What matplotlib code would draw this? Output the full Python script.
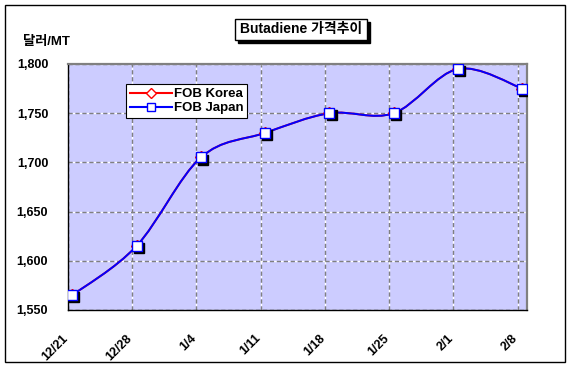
import matplotlib.pyplot as plt
import numpy as np
from matplotlib.path import Path
from matplotlib.patches import PathPatch, Rectangle
from matplotlib.lines import Line2D
import matplotlib.transforms as mtransforms

plt.rcParams['font.family'] = ['Liberation Sans', 'Noto Sans CJK KR', 'DejaVu Sans']
plt.rcParams['font.weight'] = 'bold'

# data
weeks = ['12/21', '12/28', '1/4', '1/11', '1/18', '1/25', '2/1', '2/8']
fob_korea = [1565, 1615, 1705, 1730, 1750, 1750, 1795, 1775]
fob_japan = [1565, 1615, 1705, 1730, 1750, 1750, 1795, 1775]

W, H = 572, 367
fig = plt.figure(figsize=(W / 100, H / 100), dpi=100)
ax = fig.add_axes([67.6 / W, 1 - 310 / H, (527 - 67.6) / W, (310 - 64) / H])
ax.set_facecolor('#CCCCFF')

# date axis: one slot per day, points sit mid-day
tick_pos = np.arange(len(weeks)) * 7
xs = tick_pos + 0.5
ax.set_xlim(0, 50)
ax.set_ylim(1550, 1800)


def smooth_path(x, y):
    # Excel style smoothed line (Catmull-Rom as cubic Bezier)
    p = np.column_stack([x, y]).astype(float)
    ext = np.vstack([p[0], p, p[-1]])
    verts = [p[0]]
    codes = [Path.MOVETO]
    for i in range(len(p) - 1):
        c1 = ext[i + 1] + (ext[i + 2] - ext[i]) / 6
        c2 = ext[i + 2] - (ext[i + 3] - ext[i + 1]) / 6
        verts += [c1, c2, p[i + 1]]
        codes += [Path.CURVE4] * 3
    return Path(verts, codes)


ax.add_patch(PathPatch(smooth_path(xs, fob_korea), fill=False, ec='red', lw=1.4, zorder=3))
ax.add_patch(PathPatch(smooth_path(xs, fob_japan), fill=False, ec='#0000FF', lw=1.4, zorder=4))

ax.plot(xs, fob_korea, ls='none', marker='D', ms=6, mfc='white', mec='red', mew=1, zorder=5)
shadow = mtransforms.offset_copy(ax.transData, fig=fig, x=1.5, y=-1.5, units='points')
ax.plot(xs, fob_japan, ls='none', marker='s', ms=6.5, mfc='black', mec='black', transform=shadow, zorder=6)
ax.plot(xs, fob_japan, ls='none', marker='s', ms=6.5, mfc='white', mec='#0000FF', mew=1, zorder=7)

ax.set_yticks([1550, 1600, 1650, 1700, 1750, 1800])
ax.set_yticklabels(['1,550', '1,600', '1,650', '1,700', '1,750', '1,800'])
ax.set_xticks(tick_pos)
ax.set_xticklabels(weeks, rotation=45, ha='right', va='top', rotation_mode='anchor')
ax.tick_params(axis='y', length=0, pad=14, labelsize=9)
ax.tick_params(axis='x', length=0, pad=16, labelsize=9)
for lab in ax.get_xticklabels():
    lab.set_transform(lab.get_transform() + mtransforms.ScaledTranslation(-6 / 100, 0, fig.dpi_scale_trans))

ax.grid(True, color='#808080', ls=(0, (3, 2)), lw=1, gapcolor='white', zorder=1)
ax.set_axisbelow(True)
for s in ['top', 'right']:
    ax.spines[s].set_color('#808080')
    ax.spines[s].set_linewidth(1.6)
for s in ['left', 'bottom']:
    ax.spines[s].set_color('black')
    ax.spines[s].set_linewidth(1)

handles = [
    Line2D([], [], color='red', lw=1.5, marker='D', ms=5, mfc='white', mec='red'),
    Line2D([], [], color='#0000FF', lw=1.5, marker='s', ms=5.5, mfc='white', mec='#0000FF'),
]
leg = fig.legend(handles, ['FOB Korea', 'FOB Japan'], loc='upper left',
                 bbox_to_anchor=(126 / W, 1 - 84 / H), borderaxespad=0, fancybox=False,
                 framealpha=1, edgecolor='black', fontsize=9.5, handlelength=3.2,
                 handletextpad=0.1, labelspacing=0.15, borderpad=0.3)
leg.get_frame().set_linewidth(0.8)

# title box with shadow
fig.patches.append(Rectangle((238 / W, 1 - 43 / H), 132 / W, 21 / H, transform=fig.transFigure,
                             fc='black', ec='black', lw=1))
fig.patches.append(Rectangle((235 / W, 1 - 40 / H), 132 / W, 21 / H, transform=fig.transFigure,
                             fc='white', ec='black', lw=1))
fig.text(301 / W, 1 - 29.5 / H, 'Butadiene 가격추이', ha='center', va='center', fontsize=10)
fig.text(22.7 / W, 1 - 41.5 / H, '달러/MT', ha='left', va='center', fontsize=9.5)

# outer border
fig.patches.append(Rectangle((4.5 / W, 1 - 361.5 / H), 560.5 / W, 356.5 / H, transform=fig.transFigure,
                             fill=False, ec='black', lw=1))

plt.savefig('out.png', dpi=100)
